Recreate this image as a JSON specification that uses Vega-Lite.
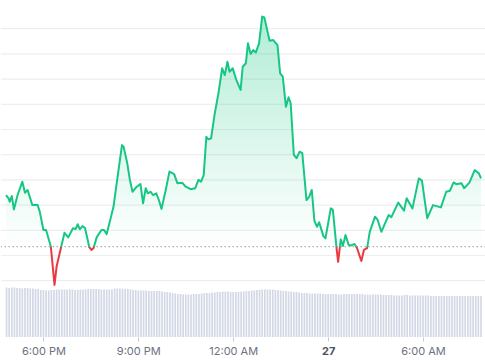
{
  "$schema": "https://vega.github.io/schema/vega-lite/v6.json",
  "width": 485,
  "height": 337,
  "padding": 0,
  "background": "white",
  "config": {"view": {"stroke": null}},
  "datasets": {
    "grid": [{"g":90},{"g":91},{"g":92},{"g":93},{"g":94},{"g":95},{"g":96},{"g":97},{"g":98},{"g":99},{"g":100}],
    "price": [
      {"t":"2024-03-26T16:49Z","p":93.40},{"t":"2024-03-26T16:54Z","p":93.27},{"t":"2024-03-26T16:56Z","p":93.13},{"t":"2024-03-26T17:00Z","p":93.36},
      {"t":"2024-03-26T17:04Z","p":92.83},{"t":"2024-03-26T17:11Z","p":93.40},{"t":"2024-03-26T17:20Z","p":93.93},{"t":"2024-03-26T17:25Z","p":93.49},
      {"t":"2024-03-26T17:30Z","p":93.60},{"t":"2024-03-26T17:39Z","p":93.00},{"t":"2024-03-26T17:49Z","p":93.00},{"t":"2024-03-26T17:53Z","p":92.74},
      {"t":"2024-03-26T18:00Z","p":92.01},{"t":"2024-03-26T18:05Z","p":92.01},{"t":"2024-03-26T18:14Z","p":91.36},{"t":"2024-03-26T18:21Z","p":89.83},
      {"t":"2024-03-26T18:25Z","p":90.56},{"t":"2024-03-26T18:33Z","p":91.29},{"t":"2024-03-26T18:40Z","p":91.90},{"t":"2024-03-26T18:47Z","p":91.72},
      {"t":"2024-03-26T18:56Z","p":92.08},{"t":"2024-03-26T19:01Z","p":92.05},{"t":"2024-03-26T19:05Z","p":92.24},{"t":"2024-03-26T19:09Z","p":92.04},
      {"t":"2024-03-26T19:14Z","p":92.17},{"t":"2024-03-26T19:19Z","p":92.08},{"t":"2024-03-26T19:27Z","p":91.33},{"t":"2024-03-26T19:31Z","p":91.22},
      {"t":"2024-03-26T19:35Z","p":91.29},{"t":"2024-03-26T19:41Z","p":91.72},{"t":"2024-03-26T19:50Z","p":92.01},{"t":"2024-03-26T19:55Z","p":92.01},
      {"t":"2024-03-26T20:00Z","p":91.85},{"t":"2024-03-26T20:13Z","p":92.94},{"t":"2024-03-26T20:19Z","p":93.87},{"t":"2024-03-26T20:29Z","p":95.38},
      {"t":"2024-03-26T20:32Z","p":95.32},{"t":"2024-03-26T20:39Z","p":94.66},{"t":"2024-03-26T20:44Z","p":94.00},{"t":"2024-03-26T20:49Z","p":93.53},
      {"t":"2024-03-26T20:57Z","p":93.73},{"t":"2024-03-26T21:04Z","p":93.84},{"t":"2024-03-26T21:09Z","p":93.07},{"t":"2024-03-26T21:14Z","p":93.67},
      {"t":"2024-03-26T21:18Z","p":93.47},{"t":"2024-03-26T21:23Z","p":93.53},{"t":"2024-03-26T21:28Z","p":93.40},{"t":"2024-03-26T21:34Z","p":93.47},
      {"t":"2024-03-26T21:39Z","p":93.20},{"t":"2024-03-26T21:44Z","p":92.85},{"t":"2024-03-26T21:52Z","p":93.60},{"t":"2024-03-26T21:59Z","p":94.33},
      {"t":"2024-03-26T22:08Z","p":94.23},{"t":"2024-03-26T22:14Z","p":93.87},{"t":"2024-03-26T22:23Z","p":93.89},{"t":"2024-03-26T22:30Z","p":93.73},
      {"t":"2024-03-26T22:39Z","p":93.63},{"t":"2024-03-26T22:48Z","p":93.67},{"t":"2024-03-26T22:54Z","p":94.00},{"t":"2024-03-26T22:59Z","p":93.93},
      {"t":"2024-03-26T23:04Z","p":94.19},{"t":"2024-03-26T23:09Z","p":95.71},{"t":"2024-03-26T23:13Z","p":95.61},{"t":"2024-03-26T23:18Z","p":95.65},
      {"t":"2024-03-26T23:25Z","p":96.64},{"t":"2024-03-26T23:32Z","p":97.44},{"t":"2024-03-26T23:39Z","p":98.43},{"t":"2024-03-26T23:44Z","p":98.16},
      {"t":"2024-03-26T23:49Z","p":98.69},{"t":"2024-03-26T23:53Z","p":98.29},{"t":"2024-03-26T23:59Z","p":98.43},{"t":"2024-03-27T00:06Z","p":97.96},
      {"t":"2024-03-27T00:14Z","p":97.57},{"t":"2024-03-27T00:18Z","p":98.49},{"t":"2024-03-27T00:24Z","p":98.63},{"t":"2024-03-27T00:28Z","p":99.42},
      {"t":"2024-03-27T00:33Z","p":99.00},{"t":"2024-03-27T00:38Z","p":99.15},{"t":"2024-03-27T00:43Z","p":99.06},{"t":"2024-03-27T00:49Z","p":99.42},
      {"t":"2024-03-27T00:55Z","p":100.48},{"t":"2024-03-27T00:59Z","p":100.45},{"t":"2024-03-27T01:09Z","p":99.52},{"t":"2024-03-27T01:16Z","p":99.55},
      {"t":"2024-03-27T01:24Z","p":99.35},{"t":"2024-03-27T01:29Z","p":98.23},{"t":"2024-03-27T01:34Z","p":98.10},{"t":"2024-03-27T01:40Z","p":96.90},
      {"t":"2024-03-27T01:45Z","p":97.28},{"t":"2024-03-27T01:49Z","p":97.04},{"t":"2024-03-27T01:55Z","p":94.99},{"t":"2024-03-27T02:00Z","p":94.86},
      {"t":"2024-03-27T02:06Z","p":95.12},{"t":"2024-03-27T02:11Z","p":95.06},{"t":"2024-03-27T02:19Z","p":93.20},{"t":"2024-03-27T02:24Z","p":93.33},
      {"t":"2024-03-27T02:29Z","p":93.60},{"t":"2024-03-27T02:34Z","p":92.38},{"t":"2024-03-27T02:39Z","p":92.14},{"t":"2024-03-27T02:43Z","p":92.32},
      {"t":"2024-03-27T02:51Z","p":91.77},{"t":"2024-03-27T02:55Z","p":91.68},{"t":"2024-03-27T03:05Z","p":92.87},{"t":"2024-03-27T03:09Z","p":92.81},
      {"t":"2024-03-27T03:16Z","p":91.29},{"t":"2024-03-27T03:19Z","p":90.75},{"t":"2024-03-27T03:24Z","p":91.64},{"t":"2024-03-27T03:28Z","p":91.38},
      {"t":"2024-03-27T03:33Z","p":91.81},{"t":"2024-03-27T03:39Z","p":91.42},{"t":"2024-03-27T03:44Z","p":91.40},{"t":"2024-03-27T03:50Z","p":91.46},
      {"t":"2024-03-27T03:55Z","p":91.29},{"t":"2024-03-27T04:03Z","p":90.78},{"t":"2024-03-27T04:08Z","p":91.22},{"t":"2024-03-27T04:14Z","p":91.29},
      {"t":"2024-03-27T04:19Z","p":91.94},{"t":"2024-03-27T04:29Z","p":92.54},{"t":"2024-03-27T04:34Z","p":92.41},{"t":"2024-03-27T04:41Z","p":91.94},
      {"t":"2024-03-27T04:55Z","p":92.61},{"t":"2024-03-27T05:00Z","p":92.52},{"t":"2024-03-27T05:13Z","p":93.10},{"t":"2024-03-27T05:24Z","p":92.78},
      {"t":"2024-03-27T05:29Z","p":93.27},{"t":"2024-03-27T05:40Z","p":92.87},{"t":"2024-03-27T05:52Z","p":94.06},{"t":"2024-03-27T05:58Z","p":93.97},
      {"t":"2024-03-27T06:08Z","p":92.48},{"t":"2024-03-27T06:19Z","p":93.00},{"t":"2024-03-27T06:34Z","p":92.91},{"t":"2024-03-27T06:44Z","p":93.53},
      {"t":"2024-03-27T06:51Z","p":93.57},{"t":"2024-03-27T06:58Z","p":93.90},{"t":"2024-03-27T07:03Z","p":93.83},{"t":"2024-03-27T07:13Z","p":93.87},
      {"t":"2024-03-27T07:18Z","p":93.67},{"t":"2024-03-27T07:28Z","p":93.89},{"t":"2024-03-27T07:38Z","p":94.39},{"t":"2024-03-27T07:46Z","p":94.26},
      {"t":"2024-03-27T07:50Z","p":94.06}
    ],
    "vol": [
      {"t":"2024-03-26T16:50Z","v":49.5},{"t":"2024-03-26T16:55Z","v":49},{"t":"2024-03-26T17:00Z","v":49.5},{"t":"2024-03-26T17:05Z","v":49.5},
      {"t":"2024-03-26T17:10Z","v":49},{"t":"2024-03-26T17:15Z","v":49},{"t":"2024-03-26T17:20Z","v":48.5},{"t":"2024-03-26T17:25Z","v":49},
      {"t":"2024-03-26T17:30Z","v":49},{"t":"2024-03-26T17:35Z","v":48.5},{"t":"2024-03-26T17:40Z","v":48.5},{"t":"2024-03-26T17:45Z","v":48},
      {"t":"2024-03-26T17:50Z","v":48},{"t":"2024-03-26T17:55Z","v":47},{"t":"2024-03-26T18:00Z","v":47},{"t":"2024-03-26T18:05Z","v":46.5},
      {"t":"2024-03-26T18:10Z","v":46.5},{"t":"2024-03-26T18:15Z","v":47},{"t":"2024-03-26T18:20Z","v":47},{"t":"2024-03-26T18:25Z","v":47.5},
      {"t":"2024-03-26T18:30Z","v":47.5},{"t":"2024-03-26T18:35Z","v":47.5},{"t":"2024-03-26T18:40Z","v":47.5},{"t":"2024-03-26T18:45Z","v":47.5},
      {"t":"2024-03-26T18:50Z","v":47.5},{"t":"2024-03-26T18:55Z","v":47.5},{"t":"2024-03-26T19:00Z","v":47},{"t":"2024-03-26T19:05Z","v":47},
      {"t":"2024-03-26T19:10Z","v":47.5},{"t":"2024-03-26T19:15Z","v":47.5},{"t":"2024-03-26T19:20Z","v":47.5},{"t":"2024-03-26T19:25Z","v":48},
      {"t":"2024-03-26T19:30Z","v":48},{"t":"2024-03-26T19:35Z","v":48},{"t":"2024-03-26T19:40Z","v":48},{"t":"2024-03-26T19:45Z","v":48},
      {"t":"2024-03-26T19:50Z","v":47.5},{"t":"2024-03-26T19:55Z","v":47.5},{"t":"2024-03-26T20:00Z","v":47.5},{"t":"2024-03-26T20:05Z","v":47.5},
      {"t":"2024-03-26T20:10Z","v":47.5},{"t":"2024-03-26T20:15Z","v":48.5},{"t":"2024-03-26T20:20Z","v":48.5},{"t":"2024-03-26T20:25Z","v":48.5},
      {"t":"2024-03-26T20:30Z","v":48.5},{"t":"2024-03-26T20:35Z","v":48},{"t":"2024-03-26T20:40Z","v":48},{"t":"2024-03-26T20:45Z","v":47.5},
      {"t":"2024-03-26T20:50Z","v":47},{"t":"2024-03-26T20:55Z","v":47},{"t":"2024-03-26T21:00Z","v":46.5},{"t":"2024-03-26T21:05Z","v":46.5},
      {"t":"2024-03-26T21:10Z","v":46.5},{"t":"2024-03-26T21:15Z","v":46.5},{"t":"2024-03-26T21:20Z","v":46},{"t":"2024-03-26T21:25Z","v":46},
      {"t":"2024-03-26T21:30Z","v":46},{"t":"2024-03-26T21:35Z","v":46},{"t":"2024-03-26T21:40Z","v":46},{"t":"2024-03-26T21:45Z","v":45.5},
      {"t":"2024-03-26T21:50Z","v":45},{"t":"2024-03-26T21:55Z","v":45},{"t":"2024-03-26T22:00Z","v":44.5},{"t":"2024-03-26T22:05Z","v":44},
      {"t":"2024-03-26T22:10Z","v":43.5},{"t":"2024-03-26T22:15Z","v":43},{"t":"2024-03-26T22:20Z","v":43},{"t":"2024-03-26T22:25Z","v":42.5},
      {"t":"2024-03-26T22:30Z","v":42.5},{"t":"2024-03-26T22:35Z","v":42.5},{"t":"2024-03-26T22:40Z","v":42.5},{"t":"2024-03-26T22:45Z","v":43},
      {"t":"2024-03-26T22:50Z","v":43},{"t":"2024-03-26T22:55Z","v":43},{"t":"2024-03-26T23:00Z","v":43.5},{"t":"2024-03-26T23:05Z","v":44},
      {"t":"2024-03-26T23:10Z","v":44},{"t":"2024-03-26T23:15Z","v":44},{"t":"2024-03-26T23:20Z","v":44.5},{"t":"2024-03-26T23:25Z","v":44.5},
      {"t":"2024-03-26T23:30Z","v":45},{"t":"2024-03-26T23:35Z","v":45},{"t":"2024-03-26T23:40Z","v":45.5},{"t":"2024-03-26T23:45Z","v":45.5},
      {"t":"2024-03-26T23:50Z","v":45.5},{"t":"2024-03-26T23:55Z","v":45},{"t":"2024-03-27T00:00Z","v":45},{"t":"2024-03-27T00:05Z","v":45},
      {"t":"2024-03-27T00:10Z","v":45},{"t":"2024-03-27T00:15Z","v":45.5},{"t":"2024-03-27T00:20Z","v":45.5},{"t":"2024-03-27T00:25Z","v":46},
      {"t":"2024-03-27T00:30Z","v":46},{"t":"2024-03-27T00:35Z","v":46.5},{"t":"2024-03-27T00:40Z","v":46.5},{"t":"2024-03-27T00:45Z","v":47},
      {"t":"2024-03-27T00:50Z","v":47},{"t":"2024-03-27T00:55Z","v":47.5},{"t":"2024-03-27T01:00Z","v":47.5},{"t":"2024-03-27T01:05Z","v":47.5},
      {"t":"2024-03-27T01:10Z","v":47.5},{"t":"2024-03-27T01:15Z","v":47.5},{"t":"2024-03-27T01:20Z","v":47},{"t":"2024-03-27T01:25Z","v":47},
      {"t":"2024-03-27T01:30Z","v":46.5},{"t":"2024-03-27T01:35Z","v":46},{"t":"2024-03-27T01:40Z","v":46},{"t":"2024-03-27T01:45Z","v":45.5},
      {"t":"2024-03-27T01:50Z","v":45.5},{"t":"2024-03-27T01:55Z","v":45},{"t":"2024-03-27T02:00Z","v":45},{"t":"2024-03-27T02:05Z","v":44.5},
      {"t":"2024-03-27T02:10Z","v":44},{"t":"2024-03-27T02:15Z","v":44},{"t":"2024-03-27T02:20Z","v":44},{"t":"2024-03-27T02:25Z","v":43.5},
      {"t":"2024-03-27T02:30Z","v":43.5},{"t":"2024-03-27T02:35Z","v":43.5},{"t":"2024-03-27T02:40Z","v":43.5},{"t":"2024-03-27T02:45Z","v":43.5},
      {"t":"2024-03-27T02:50Z","v":43},{"t":"2024-03-27T02:55Z","v":43},{"t":"2024-03-27T03:00Z","v":43},{"t":"2024-03-27T03:05Z","v":43},
      {"t":"2024-03-27T03:10Z","v":43},{"t":"2024-03-27T03:15Z","v":43},{"t":"2024-03-27T03:20Z","v":42.5},{"t":"2024-03-27T03:25Z","v":42.5},
      {"t":"2024-03-27T03:30Z","v":43},{"t":"2024-03-27T03:35Z","v":43},{"t":"2024-03-27T03:40Z","v":43},{"t":"2024-03-27T03:45Z","v":43},
      {"t":"2024-03-27T03:50Z","v":43},{"t":"2024-03-27T03:55Z","v":43},{"t":"2024-03-27T04:00Z","v":43},{"t":"2024-03-27T04:05Z","v":43},
      {"t":"2024-03-27T04:10Z","v":42.5},{"t":"2024-03-27T04:15Z","v":42.5},{"t":"2024-03-27T04:20Z","v":42.5},{"t":"2024-03-27T04:25Z","v":42.5},
      {"t":"2024-03-27T04:30Z","v":42.5},{"t":"2024-03-27T04:35Z","v":42.5},{"t":"2024-03-27T04:40Z","v":42.5},{"t":"2024-03-27T04:45Z","v":42},
      {"t":"2024-03-27T04:50Z","v":42},{"t":"2024-03-27T04:55Z","v":42},{"t":"2024-03-27T05:00Z","v":42},{"t":"2024-03-27T05:05Z","v":41.5},
      {"t":"2024-03-27T05:10Z","v":41.5},{"t":"2024-03-27T05:15Z","v":41.5},{"t":"2024-03-27T05:20Z","v":41.5},{"t":"2024-03-27T05:25Z","v":42},
      {"t":"2024-03-27T05:30Z","v":42},{"t":"2024-03-27T05:35Z","v":41.5},{"t":"2024-03-27T05:40Z","v":41.5},{"t":"2024-03-27T05:45Z","v":41.5},
      {"t":"2024-03-27T05:50Z","v":41.5},{"t":"2024-03-27T05:55Z","v":41.5},{"t":"2024-03-27T06:00Z","v":41.5},{"t":"2024-03-27T06:05Z","v":41.5},
      {"t":"2024-03-27T06:10Z","v":41.5},{"t":"2024-03-27T06:15Z","v":41},{"t":"2024-03-27T06:20Z","v":41},{"t":"2024-03-27T06:25Z","v":41},
      {"t":"2024-03-27T06:30Z","v":41},{"t":"2024-03-27T06:35Z","v":41},{"t":"2024-03-27T06:40Z","v":41},{"t":"2024-03-27T06:45Z","v":41},
      {"t":"2024-03-27T06:50Z","v":41},{"t":"2024-03-27T06:55Z","v":41},{"t":"2024-03-27T07:00Z","v":41},{"t":"2024-03-27T07:05Z","v":41},
      {"t":"2024-03-27T07:10Z","v":41},{"t":"2024-03-27T07:15Z","v":41},{"t":"2024-03-27T07:20Z","v":41},{"t":"2024-03-27T07:25Z","v":41},
      {"t":"2024-03-27T07:30Z","v":41},{"t":"2024-03-27T07:35Z","v":41},{"t":"2024-03-27T07:40Z","v":41},{"t":"2024-03-27T07:45Z","v":41},
      {"t":"2024-03-27T07:50Z","v":41}
    ]
  },
  "layer": [
    {
      "data": {"name": "vol"},
      "mark": {"type": "bar", "size": 1.7, "color": "#d3d8e6"},
      "encoding": {
        "x": {
          "field": "t", "type": "temporal",
          "scale": {"type": "utc", "domain": [{"year": 2024, "month": 3, "date": 26, "hours": 16, "minutes": 49, "utc": true}, {"year": 2024, "month": 3, "date": 27, "hours": 7, "minutes": 50, "utc": true}]},
          "axis": {
            "title": null,
            "values": [
              {"year": 2024, "month": 3, "date": 26, "hours": 18, "utc": true},
              {"year": 2024, "month": 3, "date": 26, "hours": 21, "utc": true},
              {"year": 2024, "month": 3, "date": 27, "hours": 0, "utc": true},
              {"year": 2024, "month": 3, "date": 27, "hours": 3, "utc": true},
              {"year": 2024, "month": 3, "date": 27, "hours": 6, "utc": true}
            ],
            "labelExpr": "utchours(datum.value) == 3 ? '27' : utcFormat(datum.value, '%-I:%M %p')",
            "labelFont": "Inter",
            "labelFontSize": 11,
            "labelColor": {"condition": {"test": "utchours(datum.value) == 3", "value": "#4b5160"}, "value": "#6b7280"},
            "labelFontWeight": {"condition": {"test": "utchours(datum.value) == 3", "value": "bold"}, "value": "normal"},
            "labelPadding": 4,
            "labelFlush": false,
            "labelOverlap": false,
            "domain": false,
            "grid": false,
            "ticks": true,
            "tickSize": 4,
            "tickColor": "#c4c8d0"
          }
        },
        "y": {"field": "v", "type": "quantitative", "scale": {"domain": [0, 337]}, "axis": null}
      }
    },
    {
      "layer": [
        {
          "data": {"name": "grid"},
          "mark": {"type": "rule", "stroke": "#eceef2", "strokeWidth": 1.2},
          "encoding": {"y": {"field": "g", "type": "quantitative", "scale": {"domain": [87.766, 101.139], "nice": false, "zero": false}, "axis": null}}
        },
        {
          "data": {"name": "price"},
          "mark": {
            "type": "area",
            "fill": {"gradient": "linear", "x1": 0, "y1": 0, "x2": 0, "y2": 1, "stops": [
              {"offset": 0, "color": "rgba(22,199,132,0.33)"},
              {"offset": 0.8573, "color": "rgba(22,199,132,0.0)"},
              {"offset": 0.8573, "color": "rgba(234,57,67,0.0)"},
              {"offset": 1, "color": "rgba(234,57,67,0.12)"}
            ]}
          },
          "encoding": {
            "x": {"field": "t", "type": "temporal"},
            "y": {"field": "p", "type": "quantitative"},
            "y2": {"datum": 91.35}
          }
        },
        {
          "data": {"values": [{"base": 91.35}]},
          "mark": {"type": "rule", "stroke": "#a9afb8", "strokeWidth": 1.3, "strokeDash": [1.5, 2.5]},
          "encoding": {"y": {"field": "base", "type": "quantitative"}}
        },
        {
          "data": {"name": "price"},
          "mark": {
            "type": "line", "strokeWidth": 2, "strokeJoin": "round",
            "stroke": {"gradient": "linear", "x1": 0, "y1": 0, "x2": 0, "y2": 1, "stops": [
              {"offset": 0, "color": "#16c784"},
              {"offset": 0.8573, "color": "#16c784"},
              {"offset": 0.8573, "color": "#ea3943"},
              {"offset": 1, "color": "#ea3943"}
            ]}
          },
          "encoding": {
            "x": {"field": "t", "type": "temporal"},
            "y": {"field": "p", "type": "quantitative"}
          }
        }
      ]
    }
  ],
  "resolve": {"scale": {"y": "independent"}}
}
